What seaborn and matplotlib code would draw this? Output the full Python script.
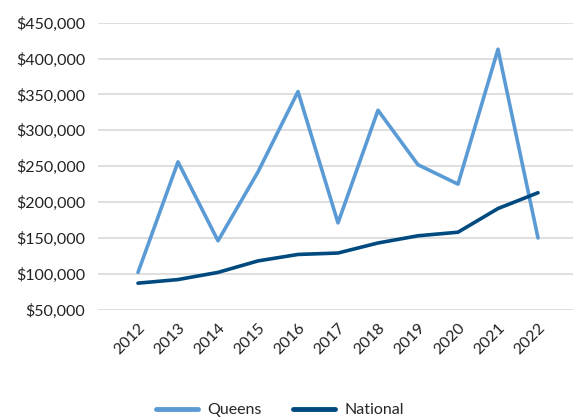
import matplotlib
matplotlib.use("Agg")
import matplotlib.pyplot as plt
import matplotlib.ticker as mticker
import pandas as pd
import seaborn as sns

years = ["2012", "2013", "2014", "2015", "2016", "2017", "2018", "2019", "2020", "2021", "2022"]
queens = [102000, 256000, 146000, 242000, 354000, 171000, 328000, 252000, 225000, 413000, 150000]
national = [87000, 92000, 102000, 118000, 127000, 129000, 143000, 153000, 158000, 191000, 213000]

df = pd.DataFrame({
    "Year": years * 2,
    "Value": queens + national,
    "Series": ["Queens"] * len(years) + ["National"] * len(years),
})

sns.set_style("white")
plt.rcParams['font.family'] = ['Lato', 'DejaVu Sans']

fig = plt.figure(figsize=(5.73, 4.17), dpi=100)
ax = fig.add_axes([98 / 573, 0.2573, 475 / 573, 0.6883])

sns.lineplot(data=df, x="Year", y="Value", hue="Series", sort=False,
             palette={"Queens": "#5B9BD5", "National": "#004A80"},
             linewidth=2.6, ax=ax, legend=False)

ax.set_xlim(-1, 10.875)
ax.set_ylim(50000, 450000)
ax.yaxis.set_major_locator(mticker.MultipleLocator(50000))
ax.yaxis.set_major_formatter(mticker.FuncFormatter(lambda v, p: f"${v:,.0f}"))
ax.grid(axis="y", color="#D9D9D9", linewidth=1.2)
ax.set_axisbelow(True)
for s in ax.spines.values():
    s.set_visible(False)
ax.tick_params(axis="both", length=0, labelsize=11.5, colors="#222222")
ax.tick_params(axis="y", pad=9)
ax.tick_params(axis="x", pad=8)
plt.setp(ax.get_xticklabels(), rotation=45, ha="right", rotation_mode="anchor")
ax.set_xlabel("")
ax.set_ylabel("")

handles = [plt.Line2D([], [], color="#5B9BD5", linewidth=3.5),
           plt.Line2D([], [], color="#004A80", linewidth=3.5)]
fig.legend(handles, ["Queens", "National"], loc="center", ncol=2, frameon=False,
           bbox_to_anchor=(280 / 573, 7 / 417), fontsize=11.5, handlelength=2.6,
           columnspacing=2.0, handletextpad=0.6)

fig.savefig("out.png", dpi=100)
